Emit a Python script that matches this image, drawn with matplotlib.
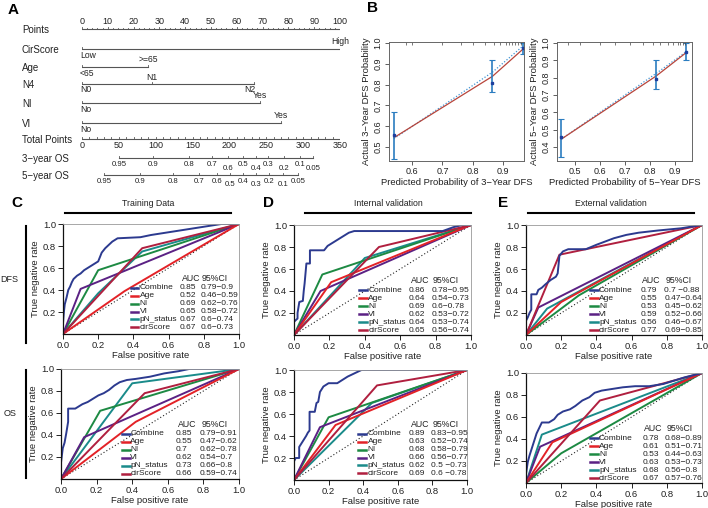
import matplotlib
matplotlib.use('Agg')
import matplotlib.pyplot as plt
from matplotlib import font_manager
from matplotlib.lines import Line2D

avail = {f.name for f in font_manager.fontManager.ttflist}
MAIN = 'Liberation Sans' if 'Liberation Sans' in avail else 'DejaVu Sans'
NARROW = 'Liberation Sans Narrow' if 'Liberation Sans Narrow' in avail else MAIN
plt.rcParams['font.family'] = [MAIN, 'DejaVu Sans']

# ---------------- DATA ----------------
# Panel A : nomogram
points_ticks = list(range(0, 101, 10))
total_ticks = list(range(0, 351, 50))
cirscore_levels = ['Low', 'High']
cirscore_points = [0, 100]
age_levels = ['<65', '>=65']
age_points = [0, 25.6]
n4_levels = ['N0', 'N1', 'N2']
n4_points = [0, 27, 66.5]
ni_levels = ['No', 'Yes']
ni_points = [0, 69]
vi_levels = ['No', 'Yes']
vi_points = [0, 77]
os_probs = [0.95, 0.9, 0.8, 0.7, 0.6, 0.5, 0.4, 0.3, 0.2, 0.1, 0.05]
os3_total = [50, 96, 145, 176, 198, 219, 236, 253, 274, 296, 313]
os5_total = [30, 79, 124, 159, 183, 201, 218, 236, 254, 273, 293]

# Panel B : calibration
cal3_pred = [0.54, 0.865, 0.965]
cal3_fit = [0.545, 0.84, 0.97]
cal3_obs = [0.56, 0.81, 0.975]
cal3_lo = [0.445, 0.765, 0.945]
cal3_hi = [0.67, 0.92, 1.0]
cal3_bc = [0.54, 0.86, 0.985]
cal3_rug = [0.58, 0.60, 0.70, 0.76, 0.80, 0.84, 0.87, 0.89, 0.91, 0.92, 0.93, 0.94, 0.95, 0.96]
cal5_pred = [0.445, 0.825, 0.945]
cal5_fit = [0.445, 0.81, 0.945]
cal5_obs = [0.455, 0.795, 0.95]
cal5_lo = [0.34, 0.735, 0.9]
cal5_hi = [0.56, 0.9, 1.0]
cal5_bc = [0.445, 0.825, 0.95]
cal5_rug = [0.47, 0.52, 0.60, 0.66, 0.72, 0.77, 0.81, 0.84, 0.87, 0.89, 0.91, 0.92, 0.93, 0.94]

# Panels C-E : ROC curves
models = ['Combine', 'Age', 'NI', 'VI', 'pN_status', 'cirScore']

train_dfs_fpr = {
    'Combine': [0, 0, 0.005, 0.01, 0.02, 0.03, 0.04, 0.05, 0.06, 0.08, 0.10, 0.12, 0.14, 0.16, 0.18, 0.20, 0.21, 0.22, 0.24, 0.26, 0.28, 0.31, 0.44, 0.50, 0.58, 0.66, 0.74, 0.82, 0.90, 1.0],
    'Age': [0, 0.35, 1], 'NI': [0, 0.2, 1], 'VI': [0, 0.1, 1],
    'pN_status': [0, 0.2, 0.45, 1], 'cirScore': [0, 0.45, 1]}
train_dfs_tpr = {
    'Combine': [0, 0.10, 0.20, 0.27, 0.33, 0.40, 0.43, 0.47, 0.50, 0.53, 0.55, 0.58, 0.60, 0.62, 0.64, 0.66, 0.70, 0.74, 0.78, 0.81, 0.84, 0.87, 0.88, 0.90, 0.92, 0.94, 0.96, 0.98, 1.0, 1.0],
    'Age': [0, 0.39, 1], 'NI': [0, 0.58, 1], 'VI': [0, 0.41, 1],
    'pN_status': [0, 0.37, 0.75, 1], 'cirScore': [0, 0.78, 1]}
train_dfs_auc = ['0.85', '0.52', '0.69', '0.65', '0.67', '0.67']
train_dfs_ci = ['0.79\u22120.9', '0.46\u22120.59', '0.62\u22120.76', '0.58\u22120.72', '0.6\u22120.74', '0.6\u22120.73']

train_os_fpr = {
    'Combine': [0, 0, 0.01, 0.02, 0.03, 0.04, 0.04, 0.08, 0.10, 0.12, 0.15, 0.18, 0.21, 0.24, 0.27, 0.30, 0.33, 0.37, 0.42, 0.5, 0.58, 0.66, 0.72, 1.0],
    'Age': [0, 0.42, 1], 'NI': [0, 0.22, 1], 'VI': [0, 0.13, 1],
    'pN_status': [0, 0.4, 1], 'cirScore': [0, 0.47, 1]}
train_os_tpr = {
    'Combine': [0, 0.15, 0.28, 0.33, 0.42, 0.52, 0.64, 0.64, 0.66, 0.68, 0.70, 0.73, 0.76, 0.78, 0.81, 0.85, 0.88, 0.90, 0.91, 0.93, 0.96, 0.98, 1.0, 1.0],
    'Age': [0, 0.52, 1], 'NI': [0, 0.62, 1], 'VI': [0, 0.38, 1],
    'pN_status': [0, 0.87, 1], 'cirScore': [0, 0.78, 1]}
train_os_auc = ['0.85', '0.55', '0.7', '0.62', '0.73', '0.66']
train_os_ci = ['0.79\u22120.91', '0.47\u22120.62', '0.62\u22120.78', '0.54\u22120.7', '0.66\u22120.8', '0.59\u22120.74']

int_dfs_fpr = {
    'Combine': [0, 0, 0.02, 0.02, 0.03, 0.05, 0.055, 0.06, 0.07, 0.09, 0.09, 0.17, 0.19, 0.22, 0.25, 0.28, 0.31, 0.34, 0.84, 0.9, 0.95, 1.0],
    'Age': [0, 0.21, 1], 'NI': [0, 0.16, 1], 'VI': [0, 0.15, 1],
    'pN_status': [0, 0.4, 1], 'cirScore': [0, 0.48, 1]}
int_dfs_tpr = {
    'Combine': [0, 0.12, 0.15, 0.20, 0.30, 0.31, 0.40, 0.47, 0.65, 0.65, 0.77, 0.77, 0.81, 0.84, 0.87, 0.9, 0.93, 0.945, 0.945, 0.98, 1.0, 1.0],
    'Age': [0, 0.48, 1], 'NI': [0, 0.55, 1], 'VI': [0, 0.4, 1],
    'pN_status': [0, 0.7, 1], 'cirScore': [0, 0.8, 1]}
int_dfs_auc = ['0.86', '0.64', '0.69', '0.62', '0.64', '0.65']
int_dfs_ci = ['0.78\u22120.95', '0.54\u22120.73', '0.6\u22120.78', '0.53\u22120.72', '0.53\u22120.74', '0.56\u22120.74']

int_os_fpr = {
    'Combine': [0, 0, 0.01, 0.03, 0.03, 0.05, 0.07, 0.08, 0.09, 0.09, 0.12, 0.13, 0.14, 0.15, 0.17, 0.20, 0.25, 0.28, 0.31, 0.35, 0.39, 1.0],
    'Age': [0, 0.24, 1], 'NI': [0, 0.2, 1], 'VI': [0, 0.15, 1],
    'pN_status': [0, 0.45, 1], 'cirScore': [0, 0.48, 1]}
int_os_tpr = {
    'Combine': [0, 0.17, 0.20, 0.20, 0.30, 0.35, 0.40, 0.43, 0.45, 0.62, 0.62, 0.70, 0.71, 0.80, 0.85, 0.88, 0.88, 0.91, 0.94, 0.97, 1.0, 1.0],
    'Age': [0, 0.5, 1], 'NI': [0, 0.57, 1], 'VI': [0, 0.48, 1],
    'pN_status': [0, 0.7, 1], 'cirScore': [0, 0.86, 1]}
int_os_auc = ['0.89', '0.63', '0.68', '0.66', '0.62', '0.69']
int_os_ci = ['0.83\u22120.95', '0.52\u22120.74', '0.58\u22120.79', '0.56\u22120.77', '0.5 \u22120.73', '0.6 \u22120.78']

ext_dfs_fpr = {
    'Combine': [0, 0, 0.01, 0.02, 0.03, 0.03, 0.06, 0.07, 0.09, 0.11, 0.14, 0.17, 0.18, 0.19, 0.21, 0.24, 0.34, 0.40, 0.45, 0.50, 0.57, 0.64, 0.75, 0.88, 1.0],
    'Age': [0, 0.2, 1], 'NI': [0, 0.3, 1], 'VI': [0, 0.07, 1],
    'pN_status': [0, 0.12, 1], 'cirScore': [0, 0.19, 1]}
ext_dfs_tpr = {
    'Combine': [0, 0.13, 0.16, 0.20, 0.23, 0.37, 0.37, 0.41, 0.43, 0.46, 0.50, 0.53, 0.56, 0.72, 0.76, 0.78, 0.78, 0.82, 0.85, 0.88, 0.91, 0.93, 0.95, 0.97, 1.0],
    'Age': [0, 0.3, 1], 'NI': [0, 0.36, 1], 'VI': [0, 0.25, 1],
    'pN_status': [0, 0.24, 1], 'cirScore': [0, 0.73, 1]}
ext_dfs_auc = ['0.79', '0.55', '0.53', '0.59', '0.56', '0.77']
ext_dfs_ci = ['0.7 \u22120.88', '0.47\u22120.64', '0.45\u22120.62', '0.52\u22120.66', '0.46\u22120.67', '0.69\u22120.85']

ext_os_fpr = {
    'Combine': [0, 0, 0.01, 0.02, 0.03, 0.05, 0.06, 0.09, 0.13, 0.16, 0.18, 0.21, 0.25, 0.28, 0.32, 0.36, 0.39, 0.43, 0.47, 0.55, 0.62, 0.70, 0.78, 0.84, 0.90, 0.95, 1.0],
    'Age': [0, 0.15, 1], 'NI': [0, 0.2, 1], 'VI': [0, 0.08, 1],
    'pN_status': [0, 0.09, 1], 'cirScore': [0, 0.42, 1]}
ext_os_tpr = {
    'Combine': [0, 0.08, 0.19, 0.25, 0.30, 0.40, 0.45, 0.55, 0.55, 0.58, 0.62, 0.65, 0.67, 0.70, 0.75, 0.78, 0.82, 0.84, 0.85, 0.87, 0.88, 0.88, 0.90, 0.93, 0.96, 0.98, 1.0],
    'Age': [0, 0.37, 1], 'NI': [0, 0.27, 1], 'VI': [0, 0.33, 1],
    'pN_status': [0, 0.44, 1], 'cirScore': [0, 0.75, 1]}
ext_os_auc = ['0.78', '0.61', '0.53', '0.63', '0.68', '0.67']
ext_os_ci = ['0.68\u22120.89', '0.51\u22120.71', '0.44\u22120.63', '0.53\u22120.73', '0.56\u22120.8', '0.57\u22120.76']

# ---------------- STYLE ----------------
model_colors = {'Combine': '#2c3a8f', 'Age': '#e32227', 'NI': '#1d8a43',
                'VI': '#5b2184', 'pN_status': '#1a8b8a', 'cirScore': '#b01f3f'}
draw_order = ['pN_status', 'NI', 'VI', 'Age', 'cirScore', 'Combine']
TXT = '#222222'
LEGFS = 6.0

W, H = 708, 508
fig = plt.figure(figsize=(W / 100, H / 100), dpi=100)


def px_axes(x0, y0, x1, y1):
    return fig.add_axes([x0 / W, 1 - y1 / H, (x1 - x0) / W, (y1 - y0) / H])


def fig_line(xs, ys, lw=1.5, color='black'):
    fig.add_artist(Line2D([x / W for x in xs], [1 - y / H for y in ys],
                          transform=fig.transFigure, lw=lw, color=color))


def fig_text(x, y, s, **kw):
    fig.text(x / W, 1 - y / H, s, **kw)


# ---------------- PANEL A ----------------
fig_text(8, 10, 'A', fontsize=11, fontweight='bold', va='center', ha='left')
nax = px_axes(82, 0, 340, 190)
nax.set_xlim(0, 100)
nax.set_ylim(190, 0)
nax.axis('off')
LC = '#555555'
row_y = {'Points': 29, 'CirScore': 49, 'Age': 67, 'N4': 84, 'NI': 103, 'VI': 123,
         'Total Points': 139, '3\u2212year OS': 158, '5\u2212year OS': 175}
for name, y in row_y.items():
    fig_text(22, y + 1, name, fontsize=7, ha='left', va='center', color=TXT)

# Points scale
nax.plot([0, 100], [29, 29], color=LC, lw=0.8)
for t in range(0, 101, 2):
    nax.plot([t, t], [29, 27.5 if t % 10 else 26.5], color=LC, lw=0.6)
for t in points_ticks:
    nax.text(t, 22, str(t), fontsize=6.5, ha='center', va='center', color=TXT, family=NARROW)


def cat_row(y, levels, pts, place):
    # place: 'b' below-left, 'a' above-centre, 'r' below-right
    nax.plot([min(pts), max(pts)], [y, y], color=LC, lw=0.8)
    for lev, p, pl in zip(levels, pts, place):
        nax.plot([p, p], [y, y - 2], color=LC, lw=0.6)
        if pl == 'a':
            nax.text(p, y - 7, lev, fontsize=6.2, ha='center', va='center', color=TXT, family=NARROW)
        elif pl == 'r':
            nax.text(p + 0.8, y + 6, lev, fontsize=6.2, ha='right', va='center', color=TXT, family=NARROW)
        else:
            nax.text(p - 0.8, y + 6, lev, fontsize=6.2, ha='left', va='center', color=TXT, family=NARROW)


cat_row(49, cirscore_levels, cirscore_points, ['b', 'a'])
cat_row(67, age_levels, age_points, ['b', 'a'])
cat_row(84, n4_levels, n4_points, ['b', 'a', 'r'])
cat_row(103, ni_levels, ni_points, ['b', 'a'])
cat_row(123, vi_levels, vi_points, ['b', 'a'])

# Total points
scale = 100 / 350
nax.plot([0, 100], [139, 139], color=LC, lw=0.8)
for t in range(0, 351, 10):
    nax.plot([t * scale] * 2, [139, 137], color=LC, lw=0.6)
for t in total_ticks:
    nax.text(t * scale, 146, str(t), fontsize=6.5, ha='center', va='center', color=TXT, family=NARROW)


def os_row(y, totals, stagger):
    nax.plot([totals[0] * scale, totals[-1] * scale], [y, y], color=LC, lw=0.8)
    for p, t, s in zip(os_probs, totals, stagger):
        nax.plot([t * scale] * 2, [y, y - 2], color=LC, lw=0.6)
        nax.text(t * scale, y + (10 if s else 6.5), f'{p:g}', fontsize=5.6,
                 ha='center', va='center', color=TXT, family=NARROW)


os_row(158, os3_total, [False, False, False, False, True, False, True, False, True, False, True])
os_row(175, os5_total, [False, False, False, False, False, True, False, True, False, True, False])

# ---------------- PANEL B ----------------
fig_text(373, 8, 'B', fontsize=11, fontweight='bold', va='center', ha='center')


def calib(ax, pred, fit, obs, lo, hi, bc, rug, xlim, ylim, xt, yt, xlabel, ylabel):
    ax.plot(pred, bc, color='#3f93d3', lw=0.9, ls=(0, (1, 1.5)))
    ax.plot(pred, fit, color='#b8453b', lw=0.9)
    ax.errorbar(pred, obs, yerr=[[o - l for o, l in zip(obs, lo)], [h - o for o, h in zip(obs, hi)]],
                fmt='s', ms=2, color='#2b7dc0', mfc='#1d3f9e', mec='#1d3f9e', capsize=2,
                elinewidth=1.2, capthick=0.8)
    ax.vlines(rug, 0.975, 1.0, transform=ax.get_xaxis_transform(), color='#444', lw=0.5)
    ax.set_xlim(*xlim)
    ax.set_ylim(*ylim)
    ax.set_xticks(xt)
    ax.set_xticklabels([f'{v:.1f}' for v in xt])
    ax.set_yticks(yt)
    ax.set_yticklabels([f'{v:.1f}' for v in yt], rotation=90, va='center')
    ax.tick_params(labelsize=6.5, length=3, width=0.6, pad=1.5, colors='#444', labelcolor=TXT)
    for s in ax.spines.values():
        s.set_color('#666')
        s.set_linewidth(0.7)
    ax.set_xlabel(xlabel, fontsize=6.8, labelpad=1.5, color=TXT)
    ax.set_ylabel(ylabel, fontsize=6.8, labelpad=2, color=TXT)


b1 = px_axes(389, 42, 524, 161)
calib(b1, cal3_pred, cal3_fit, cal3_obs, cal3_lo, cal3_hi, cal3_bc, cal3_rug,
      (0.524, 0.969), (0.433, 1.005), [0.6, 0.7, 0.8, 0.9], [0.5, 0.6, 0.7, 0.8, 0.9, 1.0],
      'Predicted Probability of 3\u2212Year DFS', 'Actual 3\u2212Year DFS Probability')
b2 = px_axes(557, 42, 692, 161)
calib(b2, cal5_pred, cal5_fit, cal5_obs, cal5_lo, cal5_hi, cal5_bc, cal5_rug,
      (0.428, 0.968), (0.319, 1.006), [0.5, 0.6, 0.7, 0.8, 0.9], [0.4, 0.5, 0.6, 0.7, 0.8, 0.9, 1.0],
      'Predicted Probability of 5\u2212Year DFS', 'Actual 5\u2212Year DFS Probability')

# ---------------- PANELS C-E ----------------


def roc(ax, fpr, tpr, aucs, cis, leg):
    ax.plot([0, 1], [0, 1], color='#222', lw=0.8, ls=(0, (1, 2)))
    for m in draw_order:
        ax.plot(fpr[m], tpr[m], color=model_colors[m], lw=1.4)
    ax.set_xlim(0, 1)
    ax.set_ylim(0, 1)
    ax.set_xticks([0, 0.2, 0.4, 0.6, 0.8, 1.0])
    ax.set_xticklabels(['0.0', '0.2', '0.4', '0.6', '0.8', '1.0'])
    ax.set_yticks([0.2, 0.4, 0.6, 0.8, 1.0])
    ax.set_yticklabels(['0.2', '0.4', '0.6', '0.8', '1.0'])
    ax.tick_params(labelsize=6.8, length=3.5, width=0.7, pad=1.5, colors=TXT)
    for k in ('left', 'bottom'):
        ax.spines[k].set_color('#111')
        ax.spines[k].set_linewidth(0.9)
    for k in ('top', 'right'):
        ax.spines[k].set_color('#999')
        ax.spines[k].set_linewidth(0.6)
    ax.set_xlabel('False positive rate', fontsize=6.8, labelpad=1, color=TXT)
    ax.set_ylabel('True negative rate', fontsize=6.8, labelpad=2, color=TXT)
    hx0, hx1, xn, xa, xc, y0 = leg
    dy = 0.072
    tr = ax.transAxes
    ax.text(xa + 0.01, y0 + 0.088, 'AUC', transform=tr, fontsize=LEGFS + 0.3, va='center', color=TXT)
    ax.text(xc + 0.01, y0 + 0.088, '95%CI', transform=tr, fontsize=LEGFS + 0.3, va='center', color=TXT)
    for i, m in enumerate(models):
        y = y0 - i * dy
        ax.plot([hx0, hx1], [y, y], transform=tr, color=model_colors[m], lw=1.8)
        ax.text(xn, y, m, transform=tr, fontsize=LEGFS, va='center', color=TXT)
        ax.text(xa, y, aucs[i], transform=tr, fontsize=LEGFS, va='center', color=TXT)
        ax.text(xc, y, cis[i], transform=tr, fontsize=LEGFS, va='center', color=TXT)


legC1 = (0.385, 0.425, 0.435, 0.665, 0.78, 0.42)
legC2 = (0.345, 0.385, 0.39, 0.645, 0.78, 0.41)
legD1 = (0.37, 0.41, 0.42, 0.65, 0.775, 0.405)
legD2 = (0.37, 0.415, 0.425, 0.665, 0.79, 0.42)
legE1 = (0.365, 0.41, 0.415, 0.65, 0.785, 0.405)
legE2 = (0.365, 0.41, 0.415, 0.66, 0.79, 0.405)

c1 = px_axes(63, 224, 239, 334)
roc(c1, train_dfs_fpr, train_dfs_tpr, train_dfs_auc, train_dfs_ci, legC1)
c2 = px_axes(61, 369, 239, 479)
roc(c2, train_os_fpr, train_os_tpr, train_os_auc, train_os_ci, legC2)
d1 = px_axes(294, 225, 471, 335)
roc(d1, int_dfs_fpr, int_dfs_tpr, int_dfs_auc, int_dfs_ci, legD1)
d2 = px_axes(294, 370, 467, 480)
roc(d2, int_os_fpr, int_os_tpr, int_os_auc, int_os_ci, legD2)
e1 = px_axes(526, 225, 702, 335)
roc(e1, ext_dfs_fpr, ext_dfs_tpr, ext_dfs_auc, ext_dfs_ci, legE1)
e2 = px_axes(526, 373, 702, 483)
roc(e2, ext_os_fpr, ext_os_tpr, ext_os_auc, ext_os_ci, legE2)

# panel labels, titles and bars
fig_text(17, 203, 'C', fontsize=11, fontweight='bold', va='center', ha='center')
fig_text(269, 203, 'D', fontsize=11, fontweight='bold', va='center', ha='center')
fig_text(503, 203, 'E', fontsize=11, fontweight='bold', va='center', ha='center')
fig_text(148, 204, 'Training Data', fontsize=6.3, va='center', ha='center', color=TXT)
fig_text(388, 203, 'Internal validation', fontsize=6.3, va='center', ha='center', color=TXT)
fig_text(611, 203, 'External validation', fontsize=6.3, va='center', ha='center', color=TXT)
fig_line([65, 231], [213, 213])
fig_line([305, 471], [213, 213])
fig_line([528, 694], [213, 213])
fig_line([26, 26], [226, 343])
fig_line([26, 26], [370, 478])
fig_text(9, 279, 'DFS', fontsize=6.5, va='center', ha='center', color=TXT)
fig_text(10, 413, 'OS', fontsize=6.5, va='center', ha='center', color=TXT)

fig.savefig('out.png', dpi=100)
